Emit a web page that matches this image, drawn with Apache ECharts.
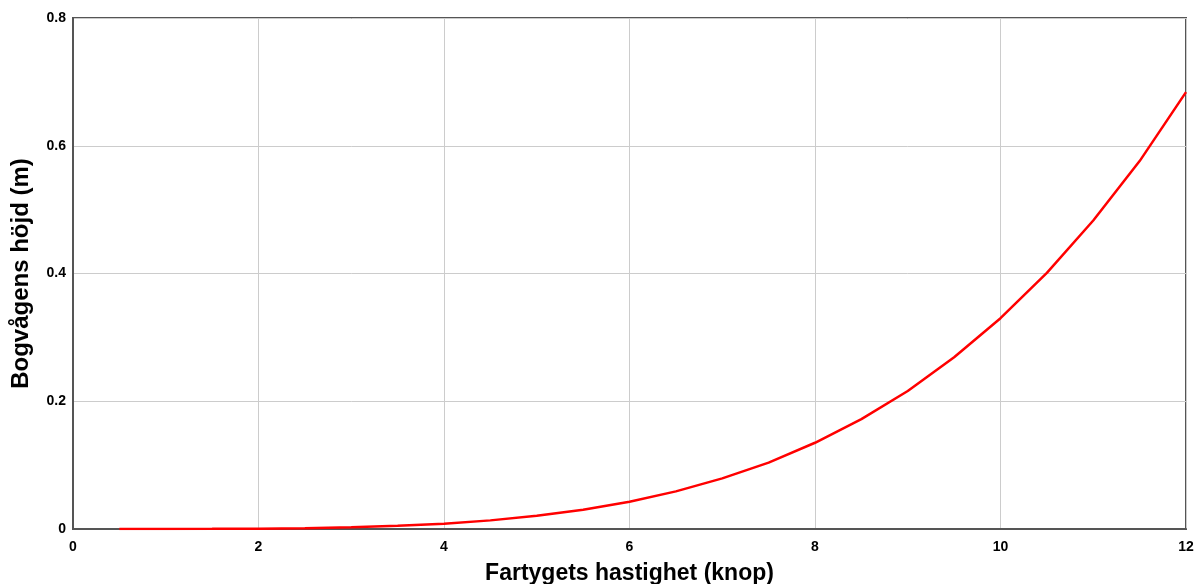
<!DOCTYPE html>
<html>
<head>
<meta charset="utf-8">
<script src="https://cdn.jsdelivr.net/npm/echarts@6/dist/echarts.min.js"></script>
<style>
html,body{margin:0;padding:0;background:#fff;}
#main{width:1194px;height:584px;}
</style>
</head>
<body>
<div id="main"></div>
<script>
// speed (knots) and bow wave height (m)
var speeds = [0.5,1,1.5,2,2.5,3,3.5,4,4.5,5,5.5,6,6.5,7,7.5,8,8.5,9,9.5,10,10.5,11,11.5,12];
var heights = [0.0000,0.0000,0.0002,0.0005,0.0013,0.0027,0.0049,0.0084,0.0135,0.0206,0.0302,0.0428,
               0.0589,0.0792,0.104,0.135,0.172,0.216,0.269,0.330,0.401,0.483,0.576,0.684];

var xName = 'Fartygets hastighet (knop)';
var yName = 'Bogvågens höjd (m)';

var pts = [];
for (var i = 0; i < speeds.length; i++) {
  pts.push([speeds[i], heights[i]]);
}

var myChart = echarts.init(document.getElementById('main'));

var font = 'Liberation Sans, Arial, sans-serif';
var lbl = {color:'#000', fontWeight:'bold', fontSize:14, fontFamily:font};

option = {
  backgroundColor: '#fff',
  animation: false,
  grid: {
    left: 73, right: 8, top: 18, bottom: 55,
    outerBoundsMode: 'none',
    containLabel: false,
    show: true, borderColor: '#555', borderWidth: 2
  },
  xAxis: {
    type: 'value',
    min: 0, max: 12, interval: 2,
    name: xName,
    nameLocation: 'middle',
    nameGap: 33,
    nameTextStyle: {color:'#000', fontWeight:'bold', fontSize:23, fontFamily:font},
    axisLine: {show: true, lineStyle: {color:'#555', width:2}},
    axisTick: {show: false},
    axisLabel: Object.assign({margin: 11}, lbl),
    splitLine: {show: true, lineStyle: {color:'#ccc', width:1}}
  },
  yAxis: {
    type: 'value',
    min: 0, max: 0.8, interval: 0.2,
    name: yName,
    nameLocation: 'middle',
    nameGap: 40,
    nameTextStyle: {color:'#000', fontWeight:'bold', fontSize:24, fontFamily:font},
    axisLine: {show: true, lineStyle: {color:'#555', width:2}},
    axisTick: {show: false},
    axisLabel: Object.assign({margin: 7}, lbl),
    splitLine: {show: true, lineStyle: {color:'#ccc', width:1}}
  },
  series: [{
    type: 'line',
    data: pts,
    showSymbol: false,
    lineStyle: {color:'#ff0000', width:2.5},
    z: 3
  }]
};

myChart.setOption(option);
</script>
</body>
</html>
